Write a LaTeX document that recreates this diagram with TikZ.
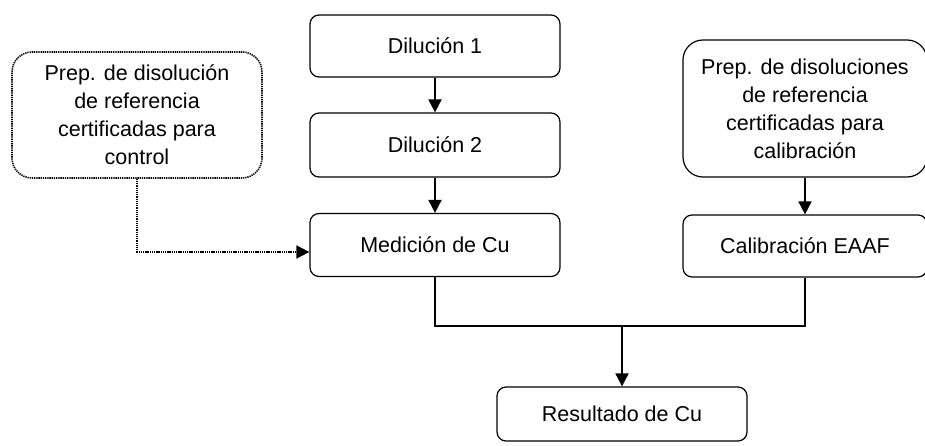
\documentclass[tikz,border=0pt]{standalone}
\usepackage{fontspec}
\setmainfont{Liberation Sans}
\usetikzlibrary{arrows.meta,calc}
\begin{document}
\begin{tikzpicture}[x=1pt,y=-1pt,
  box/.style={draw,line width=1.2pt,rounded corners=9pt,inner sep=0pt,align=center,
    minimum width=250pt,font=\fontsize{21.5}{28}\selectfont},
  bigbox/.style={box,rounded corners=20pt},
  dotline/.style={line width=1.6pt,dash pattern=on 1.3pt off 0.9pt},
  arr/.style={line width=1.8pt,-{Triangle[length=13pt,width=13pt]}},
  thin/.style={line width=1.2pt}]
\useasboundingbox (0,0) rectangle (925,446);
\node[box,minimum height=62pt] (d1) at (435,46) {Diluci\'on 1};
\node[box,minimum height=64pt] (d2) at (435,145) {Diluci\'on 2};
\node[box,minimum height=63pt] (med) at (435,245) {Medici\'on de Cu};
\node[bigbox,dotline,minimum height=126pt] (ctl) at (137,115)
  {Prep. de disoluci\'on\\de referencia\\certificadas para\\control};
\node[bigbox,minimum width=244pt,minimum height=137pt] (cal0) at (805,108.5)
  {Prep. de disoluciones\\de referencia\\certificadas para\\calibraci\'on};
\node[box,minimum width=244pt,minimum height=62pt] (cal) at (805,246) {Calibraci\'on EAAF};
\node[box,minimum height=54pt] (res) at (622,414) {Resultado de Cu};
\coordinate (j) at (622,326);
\draw[arr] (d1) -- (d2);
\draw[arr] (d2) -- (med);
\draw[arr] (cal0) -- (cal);
\draw[dotline,-{Triangle[length=13pt,width=13pt]}] (ctl.south) |- ($(med.west)+(0,7)$);
\draw[thin] (med.south) |- (j) -| (cal.south);
\draw[arr] (j) -- (res.north);
\end{tikzpicture}
\end{document}
